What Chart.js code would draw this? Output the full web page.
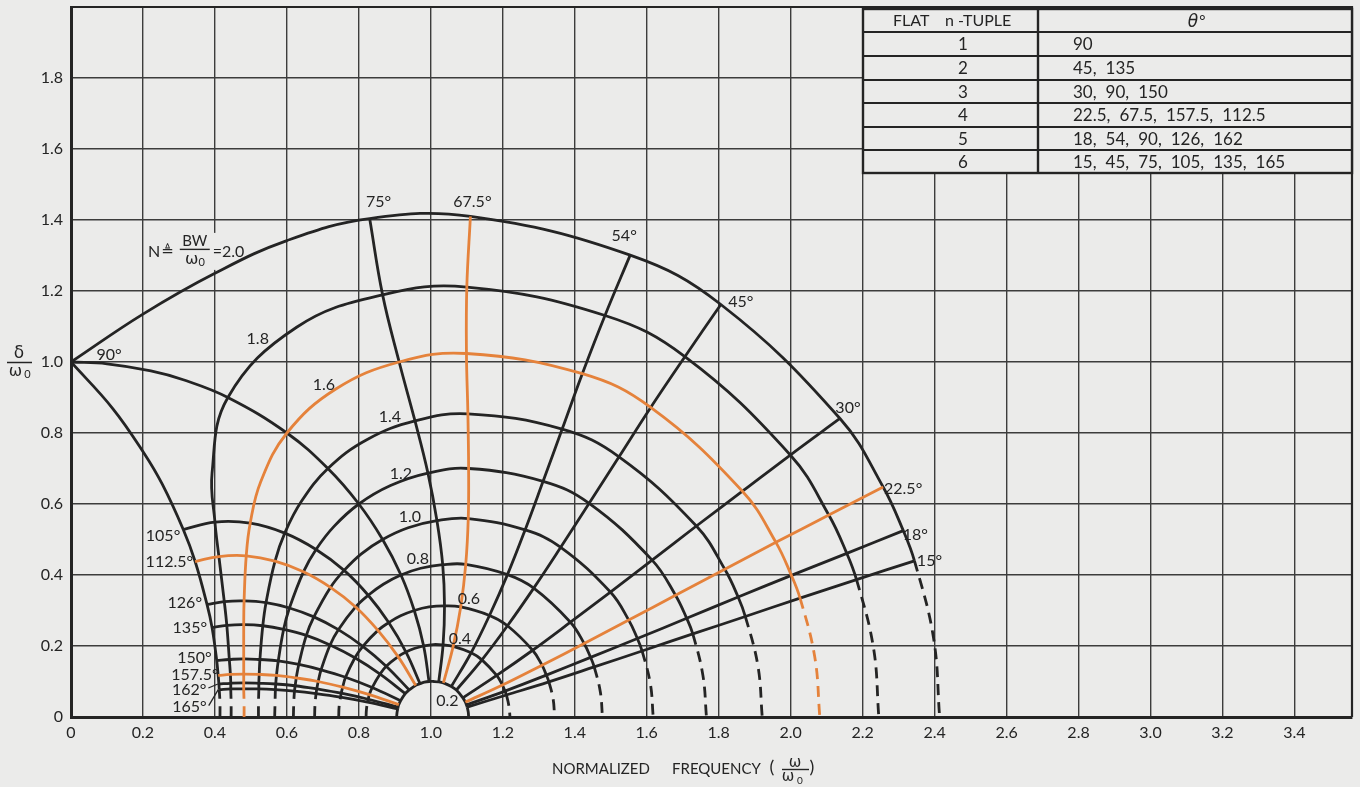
<!DOCTYPE html>
<html>
<head>
<meta charset="utf-8">
<title>Pole loci vs normalized bandwidth</title>
<script src="https://cdn.jsdelivr.net/npm/chart.js@4.4.1/dist/chart.umd.min.js"></script>
<style>
  html, body { margin: 0; padding: 0; background: #ebebea; }
  #wrap { width: 1360px; height: 787px; }
  canvas { display: block; }
</style>
</head>
<body>
<div id="wrap"><canvas id="chart" width="1360" height="787"></canvas></div>
<script>
// Nodes along the constant-N arcs, left to right (prototype pole angle θ in degrees)
const THETA_NODES = [180, 172.5, 165, 162, 157.5, 150, 135, 126, 112.5, 105, 97.5, 90, 82.5, 75, 67.5, 54, 45, 30, 22.5, 18, 15, 7.5, 0];
const N_LEVELS = ['0.2', '0.4', '0.6', '0.8', '1.0', '1.2', '1.4', '1.6', '1.8', '2.0'];

// Normalized frequency (x) and damping (y) of each arc node
const ARC_X_02 = [0.905, 0.906, 0.908, 0.909, 0.911, 0.916, 0.929, 0.940, 0.958, 0.970, 0.982, 0.995, 1.008, 1.022, 1.035, 1.057, 1.071, 1.089, 1.096, 1.099, 1.101, 1.104, 1.105];
const ARC_Y_02 = [0, 0.012, 0.023, 0.028, 0.035, 0.046, 0.066, 0.076, 0.089, 0.094, 0.098, 0.100, 0.100, 0.099, 0.096, 0.086, 0.076, 0.054, 0.042, 0.034, 0.028, 0.014, 0];
const ARC_X_04 = [0.820, 0.821, 0.824, 0.826, 0.829, 0.837, 0.859, 0.876, 0.909, 0.931, 0.954, 0.980, 1.007, 1.034, 1.062, 1.112, 1.142, 1.183, 1.199, 1.206, 1.210, 1.217, 1.220];
const ARC_Y_04 = [0, 0.021, 0.042, 0.050, 0.063, 0.083, 0.121, 0.143, 0.170, 0.183, 0.193, 0.200, 0.204, 0.203, 0.199, 0.181, 0.161, 0.117, 0.090, 0.073, 0.062, 0.031, 0];
const ARC_X_06 = [0.744, 0.745, 0.749, 0.751, 0.755, 0.763, 0.789, 0.811, 0.853, 0.883, 0.916, 0.954, 0.995, 1.038, 1.083, 1.163, 1.213, 1.283, 1.309, 1.321, 1.328, 1.340, 1.344];
const ARC_Y_06 = [0, 0.028, 0.056, 0.067, 0.084, 0.112, 0.167, 0.199, 0.244, 0.266, 0.285, 0.300, 0.310, 0.313, 0.310, 0.286, 0.257, 0.188, 0.146, 0.118, 0.099, 0.050, 0];
const ARC_X_08 = [0.677, 0.678, 0.681, 0.683, 0.687, 0.695, 0.720, 0.743, 0.791, 0.826, 0.868, 0.917, 0.972, 1.033, 1.097, 1.213, 1.286, 1.388, 1.426, 1.444, 1.454, 1.471, 1.477];
const ARC_Y_08 = [0, 0.033, 0.066, 0.079, 0.100, 0.133, 0.203, 0.246, 0.310, 0.343, 0.374, 0.400, 0.419, 0.429, 0.430, 0.401, 0.363, 0.267, 0.207, 0.168, 0.141, 0.071, 0];
const ARC_X_10 = [0.618, 0.619, 0.621, 0.623, 0.626, 0.633, 0.654, 0.675, 0.721, 0.759, 0.806, 0.866, 0.937, 1.017, 1.104, 1.262, 1.361, 1.499, 1.550, 1.574, 1.587, 1.610, 1.618];
const ARC_Y_10 = [0, 0.036, 0.073, 0.088, 0.110, 0.148, 0.230, 0.282, 0.365, 0.413, 0.459, 0.500, 0.533, 0.553, 0.559, 0.527, 0.478, 0.352, 0.273, 0.221, 0.186, 0.094, 0];
const ARC_X_12 = [0.566, 0.567, 0.568, 0.569, 0.571, 0.576, 0.591, 0.607, 0.646, 0.681, 0.731, 0.800, 0.888, 0.992, 1.105, 1.312, 1.440, 1.615, 1.680, 1.711, 1.728, 1.756, 1.766];
const ARC_Y_12 = [0, 0.038, 0.077, 0.093, 0.117, 0.158, 0.247, 0.307, 0.409, 0.472, 0.537, 0.600, 0.652, 0.687, 0.700, 0.664, 0.602, 0.442, 0.343, 0.278, 0.234, 0.118, 0];
const ARC_X_14 = [0.521, 0.521, 0.522, 0.522, 0.523, 0.525, 0.533, 0.542, 0.567, 0.594, 0.640, 0.714, 0.822, 0.956, 1.103, 1.365, 1.523, 1.738, 1.817, 1.854, 1.874, 1.909, 1.921];
const ARC_Y_14 = [0, 0.039, 0.079, 0.095, 0.120, 0.162, 0.257, 0.322, 0.439, 0.518, 0.607, 0.700, 0.781, 0.834, 0.854, 0.811, 0.733, 0.538, 0.416, 0.338, 0.283, 0.144, 0];
const ARC_X_16 = [0.481, 0.481, 0.480, 0.480, 0.480, 0.480, 0.480, 0.481, 0.487, 0.498, 0.527, 0.600, 0.736, 0.912, 1.099, 1.421, 1.611, 1.866, 1.959, 2.002, 2.026, 2.067, 2.081];
const ARC_Y_16 = [0, 0.039, 0.079, 0.096, 0.121, 0.164, 0.260, 0.327, 0.454, 0.546, 0.662, 0.800, 0.924, 1.000, 1.024, 0.967, 0.872, 0.636, 0.492, 0.399, 0.335, 0.169, 0];
const ARC_X_18 = [0.445, 0.445, 0.444, 0.444, 0.443, 0.440, 0.433, 0.426, 0.411, 0.400, 0.392, 0.436, 0.627, 0.866, 1.100, 1.484, 1.706, 1.999, 2.106, 2.156, 2.183, 2.230, 2.245];
const ARC_Y_18 = [0, 0.039, 0.079, 0.095, 0.120, 0.162, 0.258, 0.325, 0.452, 0.549, 0.687, 0.900, 1.098, 1.189, 1.211, 1.131, 1.015, 0.738, 0.569, 0.461, 0.387, 0.196, 0];

// Outer rim N = 2.0, with its corner at θ = 90° (0, 1) and extra nodes on both sides of it
const RIM_THETAS = [180, 172.5, 165, 162, 157.5, 150, 135, 126, 112.5, 105, 97.5, 94, 91, 90, 88, 85, 80, 75, 67.5, 54, 45, 30, 22.5, 18, 15, 7.5, 0];
const RIM_X = [0.414, 0.414, 0.412, 0.411, 0.409, 0.405, 0.392, 0.378, 0.345, 0.312, 0.254, 0.203, 0.116, 0.000, 0.200, 0.400, 0.600, 0.830, 1.110, 1.554, 1.806, 2.137, 2.257, 2.313, 2.344, 2.397, 2.414];
const RIM_Y = [0, 0.038, 0.077, 0.093, 0.117, 0.159, 0.252, 0.317, 0.438, 0.528, 0.655, 0.743, 0.869, 1.000, 1.135, 1.250, 1.342, 1.404, 1.410, 1.301, 1.162, 0.841, 0.648, 0.525, 0.440, 0.223, 0];

// The 90° locus (quarter circle) with extra nodes near N = 2
const LOCUS_90_X = [0.995, 0.980, 0.954, 0.917, 0.866, 0.800, 0.714, 0.600, 0.436, 0.312, 0.222, 0.100, 0];
const LOCUS_90_Y = [0.100, 0.200, 0.300, 0.400, 0.500, 0.600, 0.700, 0.800, 0.900, 0.950, 0.975, 0.995, 1.000];

// Constant-θ loci that are drawn and labelled
const THETA_LINES = ['165', '162', '157.5', '150', '135', '126', '112.5', '105', '75', '67.5', '54', '45', '30', '22.5', '18', '15'];

// Flat n-tuple table
const TUPLE_ORDERS = ['1', '2', '3', '4', '5', '6'];
const TUPLE_ANGLES = [
  ['90'],
  ['45', '135'],
  ['30', '90', '150'],
  ['22.5', '67.5', '157.5', '112.5'],
  ['18', '54', '90', '126', '162'],
  ['15', '45', '75', '105', '135', '165']
];
const HIGHLIGHT_ROW = 3;      // the 4-tuple is traced in orange
const HIGHLIGHT_N = '1.6';

const X_MAX = 3.56;
const Y_MAX = 2.0;
const TICK_STEP = 0.2;

// ---------------------------------------------------------------------
const PAPER = '#ebebea';
const INK = '#242424';
const GRID = '#3c3c3c';
const ORANGE = '#e5823b';
const LATIN = 'Lato, "DejaVu Sans", sans-serif';
const GREEK = '"DejaVu Sans", sans-serif';

const ARCS = {
  '0.2': [THETA_NODES, ARC_X_02, ARC_Y_02], '0.4': [THETA_NODES, ARC_X_04, ARC_Y_04],
  '0.6': [THETA_NODES, ARC_X_06, ARC_Y_06], '0.8': [THETA_NODES, ARC_X_08, ARC_Y_08],
  '1.0': [THETA_NODES, ARC_X_10, ARC_Y_10], '1.2': [THETA_NODES, ARC_X_12, ARC_Y_12],
  '1.4': [THETA_NODES, ARC_X_14, ARC_Y_14], '1.6': [THETA_NODES, ARC_X_16, ARC_Y_16],
  '1.8': [THETA_NODES, ARC_X_18, ARC_Y_18], '2.0': [RIM_THETAS, RIM_X, RIM_Y]
};
const highlightThetas = TUPLE_ANGLES[HIGHLIGHT_ROW];

const toPoints = (xs, ys) => xs.map((x, i) => ({ x, y: ys[i] }));
const lineStyle = (color, highlighted) => ({
  showLine: true, fill: false, pointRadius: 0, borderWidth: 2.8,
  borderColor: color, tension: 0.4, borderCapStyle: 'butt', borderJoinStyle: 'round',
  order: highlighted ? 0 : 1
});

const datasets = [];

// constant-N arcs; the ends beyond 15° / 165° are dashed
N_LEVELS.forEach(n => {
  const [thetas, xs, ys] = ARCS[n];
  const hi = n === HIGHLIGHT_N;
  const last = thetas.length - 1;
  const mid = thetas.indexOf(90);
  const parts = n === '2.0' ? [[0, mid], [mid, last]] : [[0, last]];
  parts.forEach(([a, b]) => {
    const th = thetas.slice(a, b + 1);
    datasets.push(Object.assign(lineStyle(hi ? ORANGE : INK, hi), {
      label: 'N = ' + n,
      data: toPoints(xs.slice(a, b + 1), ys.slice(a, b + 1)),
      segment: {
        borderDash: ctx => {
          const t0 = th[ctx.p0DataIndex], t1 = th[ctx.p1DataIndex];
          return (Math.max(t0, t1) <= 15 || Math.min(t0, t1) >= 165) ? [11, 7] : undefined;
        }
      }
    }));
  });
});

// constant-θ loci from N = 0.2 to N = 2.0
const nodeOf = (n, t) => {
  const [thetas, xs, ys] = ARCS[n];
  const j = thetas.indexOf(Number(t));
  return { x: xs[j], y: ys[j] };
};
THETA_LINES.forEach(t => {
  const hi = highlightThetas.includes(t);
  datasets.push(Object.assign(lineStyle(hi ? ORANGE : INK, hi), {
    label: t + '°',
    data: N_LEVELS.map(n => nodeOf(n, t))
  }));
});
datasets.push(Object.assign(lineStyle(INK, false), { label: '90°', data: toPoints(LOCUS_90_X, LOCUS_90_Y) }));

// ---------------------------------------------------------------------
// label placement (pixel offsets from the N = 2.0 end of each θ locus)
const ANGLE_LABEL_OFFSETS = {
  '90': [38, -8, 'center'], '75': [9, -17, 'center'], '67.5': [2, -15, 'center'],
  '54': [-6, -20, 'center'], '45': [20, -3, 'center'], '30': [8, -11, 'center'],
  '22.5': [20, 1.5, 'center'], '18': [12, 4, 'center'], '15': [15, -1, 'center'],
  '105': [-3, 6, 'right'], '112.5': [-2, 0, 'right'], '126': [-5, -2, 'right'],
  '135': [-5, 0, 'right'], '150': [-5, -3, 'right'],
  '157.5': [-47, -1, 'left', false], '162': [-47, 5, 'left', true], '165': [-47, 17, 'left', true]
};
// N value labels, in data units (x, y of the label centre)
const N_LABEL_AT = {
  '0.2': [1.046, 0.048], '0.4': [1.081, 0.223], '0.6': [1.106, 0.335], '0.8': [0.964, 0.448],
  '1.0': [0.942, 0.566], '1.2': [0.917, 0.687], '1.4': [0.886, 0.848], '1.6': [0.703, 0.938],
  '1.8': [0.519, 1.068]
};
const N_TITLE_AT = [0.214, 1.313];

function txt(ctx, s, x, cy, align, size, family, italic) {
  ctx.font = (italic ? 'italic ' : '') + size + 'px ' + (family || LATIN);
  ctx.textAlign = align || 'center';
  ctx.textBaseline = 'alphabetic';
  ctx.fillStyle = INK;
  ctx.fillText(s, x, cy + size * 0.36);
  return ctx.measureText(s).width;
}
function hline(ctx, x0, x1, y, w) {
  ctx.beginPath(); ctx.moveTo(x0, y); ctx.lineTo(x1, y);
  ctx.lineWidth = w; ctx.strokeStyle = INK; ctx.stroke();
}

const paperPlugin = {
  id: 'paper',
  beforeDraw(chart) {
    const c = chart.ctx;
    c.save(); c.fillStyle = PAPER; c.fillRect(0, 0, chart.width, chart.height); c.restore();
  },
  beforeDatasetsDraw(chart) {
    const c = chart.ctx, a = chart.chartArea;
    c.save();
    // frame on the top and right
    c.strokeStyle = INK; c.lineWidth = 2.2;
    c.beginPath();
    c.moveTo(a.left, a.top); c.lineTo(a.right, a.top); c.lineTo(a.right, a.bottom);
    c.stroke();
    // blank patch behind the N definition (hides the grid only)
    const nx = chart.scales.x.getPixelForValue(N_TITLE_AT[0]);
    const ny = chart.scales.y.getPixelForValue(N_TITLE_AT[1]);
    c.fillStyle = PAPER; c.fillRect(nx - 2, ny - 18, 102, 37);
    c.restore();
  }
};

const notesPlugin = {
  id: 'notes',
  afterDatasetsDraw(chart) {
    const c = chart.ctx, xs = chart.scales.x, ys = chart.scales.y;
    const px = v => xs.getPixelForValue(v), py = v => ys.getPixelForValue(v);
    c.save();

    // angle labels at the N = 2.0 rim
    Object.keys(ANGLE_LABEL_OFFSETS).forEach(t => {
      const end = nodeOf('2.0', t);
      const ex = px(end.x), ey = py(end.y);
      const [dx, dy, align, leader] = ANGLE_LABEL_OFFSETS[t];
      const w = txt(c, t + '°', ex + dx, ey + dy, align, 16);
      if (leader) {
        const sx = ex + dx + w + 2;
        c.beginPath(); c.moveTo(sx, ey + dy - 1); c.lineTo(ex - 1, ey);
        c.lineWidth = 1.3; c.strokeStyle = INK; c.stroke();
      }
    });

    // N value labels
    Object.keys(N_LABEL_AT).forEach(n => {
      const [x, y] = N_LABEL_AT[n];
      txt(c, n, px(x), py(y), 'center', 16);
    });

    // N ≜ BW / ω0 = 2.0
    const nx = px(N_TITLE_AT[0]), ny = py(N_TITLE_AT[1]);
    let x = nx;
    x += txt(c, 'N', x, ny, 'left', 16) + 1;
    x += txt(c, '≜', x, ny, 'left', 15, GREEK) + 6;
    const fx = x + 15;
    txt(c, 'BW', fx, ny - 10, 'center', 15);
    hline(c, fx - 15, fx + 15, ny - 1.5, 1.4);
    txt(c, 'ω', fx - 3, ny + 7, 'center', 16, GREEK);
    txt(c, '0', fx + 7, ny + 11, 'center', 11);
    txt(c, '=2.0', fx + 18, ny, 'left', 16);

    c.restore();
  },
  afterDraw(chart) {
    const c = chart.ctx;
    c.save();

    // y-axis title: δ / ω0
    txt(c, 'δ', 19, 352, 'center', 17, GREEK);
    hline(c, 7, 32, 362.5, 1.5);
    txt(c, 'ω', 15.5, 370, 'center', 16, GREEK);
    txt(c, '0', 27.5, 374, 'center', 11);

    // x-axis title
    txt(c, 'NORMALIZED', 552, 769, 'left', 15);
    txt(c, 'FREQUENCY', 672, 769, 'left', 15);
    txt(c, '(', 772, 767, 'center', 18);
    txt(c, 'ω', 795, 762, 'center', 15, GREEK);
    hline(c, 782, 809, 769.5, 1.4);
    txt(c, 'ω', 788, 776, 'center', 15, GREEK);
    txt(c, '0', 800, 780, 'center', 10);
    txt(c, ')', 812, 767, 'center', 18);

    // flat n-tuple table
    const L = 863, R = chart.chartArea.right, S = 1038;
    const rows = [9, 32, 56, 80, 103, 127, 150, 173];
    c.fillStyle = PAPER;
    c.fillRect(L, rows[0], R - L, rows[rows.length - 1] - rows[0]);
    c.strokeStyle = INK;
    c.lineWidth = 2.4;
    c.strokeRect(L, rows[0], R - L, rows[rows.length - 1] - rows[0]);
    c.beginPath(); c.moveTo(S, rows[0]); c.lineTo(S, rows[rows.length - 1]); c.stroke();
    c.lineWidth = 1.9;
    for (let i = 1; i < rows.length - 1; i++) {
      c.beginPath(); c.moveTo(L, rows[i]); c.lineTo(R, rows[i]); c.stroke();
    }
    const mid = i => (rows[i] + rows[i + 1]) / 2;
    txt(c, 'FLAT', 893, mid(0), 'left', 16);
    txt(c, 'n -TUPLE', 945, mid(0), 'left', 16);
    const tw = txt(c, 'θ', 1193, mid(0), 'center', 17, GREEK, true);
    txt(c, '°', 1193 + tw / 2 + 1, mid(0), 'left', 15);
    TUPLE_ORDERS.forEach((o, i) => {
      txt(c, o, 963, mid(i + 1), 'center', 17);
      let vx = 1073;
      TUPLE_ANGLES[i].forEach((v, k) => {
        const s = v + (k < TUPLE_ANGLES[i].length - 1 ? ',' : '');
        vx += txt(c, s, vx, mid(i + 1), 'left', 17) + 9;
      });
    });

    c.restore();
  }
};

const tickLabel = v => Math.abs(v) < 1e-9 ? '0' : Number(v).toFixed(1);

new Chart(document.getElementById('chart'), {
  type: 'scatter',
  data: { datasets },
  options: {
    responsive: false,
    animation: false,
    devicePixelRatio: 1,
    events: [],
    layout: { padding: { left: 0, right: 8, top: 7, bottom: 0 } },
    plugins: { legend: { display: false }, tooltip: { enabled: false } },
    scales: {
      x: {
        type: 'linear', min: 0, max: X_MAX,
        ticks: {
          stepSize: TICK_STEP, includeBounds: false, autoSkip: false, maxRotation: 0,
          padding: 6, color: INK, font: { family: LATIN, size: 16 },
          callback: v => tickLabel(v)
        },
        grid: { color: GRID, lineWidth: 1.4, drawTicks: false },
        border: { display: true, color: INK, width: 3 },
        afterFit: s => { s.height = 70; s.paddingLeft = 0; s.paddingRight = 0; }
      },
      y: {
        type: 'linear', min: 0, max: Y_MAX,
        ticks: {
          stepSize: TICK_STEP, includeBounds: false, autoSkip: false,
          padding: 8, color: INK, font: { family: LATIN, size: 16 },
          callback: v => (v > Y_MAX - 0.05 ? '' : tickLabel(v))
        },
        grid: { color: GRID, lineWidth: 1.4, drawTicks: false },
        border: { display: true, color: INK, width: 3 },
        afterFit: s => { s.width = 71; s.paddingTop = 0; s.paddingBottom = 0; }
      }
    }
  },
  plugins: [paperPlugin, notesPlugin]
});
</script>
</body>
</html>
